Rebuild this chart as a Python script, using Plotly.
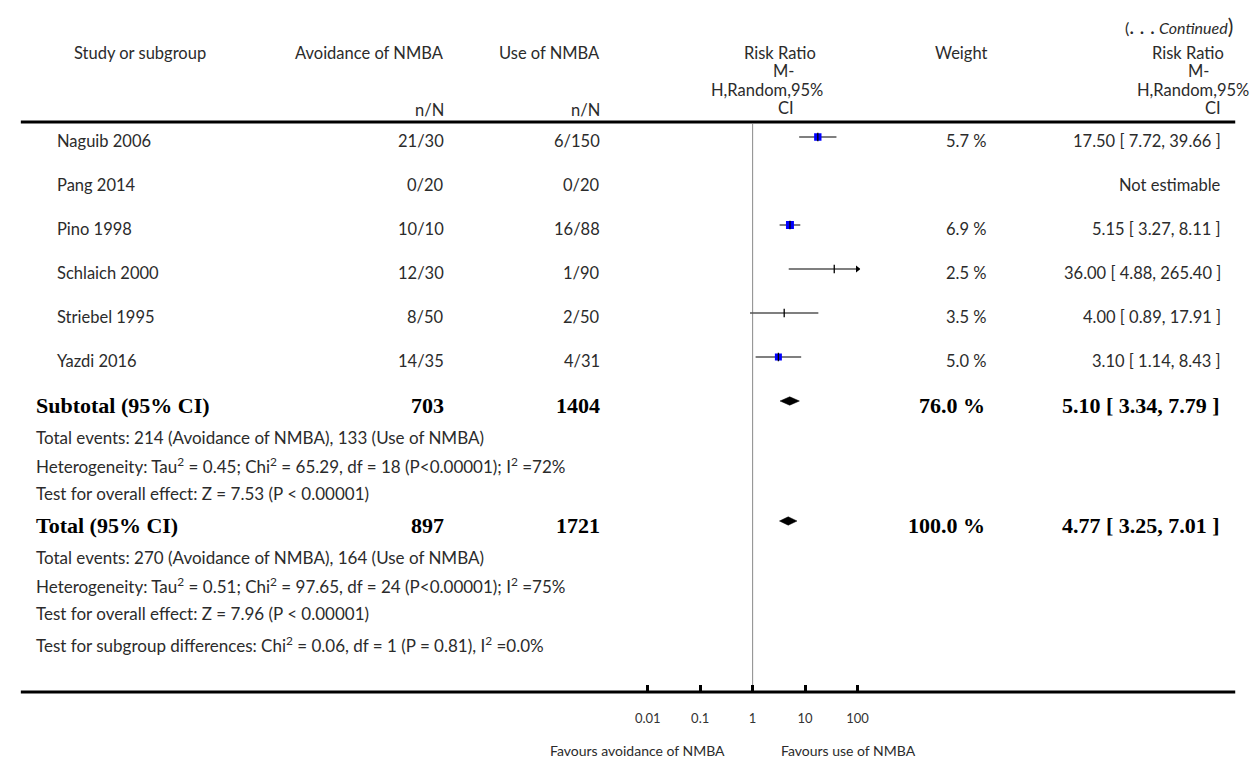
import plotly.graph_objects as go

W, H = 1259, 759

# ---- data ----
studies = ["Naguib 2006", "Pang 2014", "Pino 1998", "Schlaich 2000", "Striebel 1995", "Yazdi 2016"]
avoid_nN = ["21/30", "0/20", "10/10", "12/30", "8/50", "14/35"]
use_nN = ["6/150", "0/20", "16/88", "1/90", "2/50", "4/31"]
rr = [17.50, None, 5.15, 36.00, 4.00, 3.10]
ci_lo = [7.72, None, 3.27, 4.88, 0.89, 1.14]
ci_hi = [39.66, None, 8.11, 265.40, 17.91, 8.43]
weights = [5.7, None, 6.9, 2.5, 3.5, 5.0]

pooled_labels = ["Subtotal (95% CI)", "Total (95% CI)"]
pooled_avoid_N = [703, 897]
pooled_use_N = [1404, 1721]
pooled_rr = [5.10, 4.77]
pooled_lo = [3.34, 3.25]
pooled_hi = [7.79, 7.01]
pooled_weight = [76.0, 100.0]

subtotal_notes = [
    "Total events: 214 (Avoidance of NMBA), 133 (Use of NMBA)",
    "Heterogeneity: Tau<sup>2</sup> = 0.45; Chi<sup>2</sup> = 65.29, df = 18 (P<0.00001); I<sup>2</sup> =72%",
    "Test for overall effect: Z = 7.53 (P < 0.00001)",
]
total_notes = [
    "Total events: 270 (Avoidance of NMBA), 164 (Use of NMBA)",
    "Heterogeneity: Tau<sup>2</sup> = 0.51; Chi<sup>2</sup> = 97.65, df = 24 (P<0.00001); I<sup>2</sup> =75%",
    "Test for overall effect: Z = 7.96 (P < 0.00001)",
    "Test for subgroup differences: Chi<sup>2</sup> = 0.06, df = 1 (P = 0.81), I<sup>2</sup> =0.0%",
]

tick_vals = [0.01, 0.1, 1, 10, 100]
tick_labels = ["0.01", "0.1", "1", "10", "100"]
favours_left = "Favours avoidance of NMBA"
favours_right = "Favours use of NMBA"
rr_header = ["Risk Ratio", "M-", "H,Random,95%", "CI"]

# ---- layout geometry (pixels) ----
X_LO, X_HI = 647.5, 860.5          # positions of 0.01 and 100 on the log axis
DECADE = (X_HI - X_LO) / 4
PAD = 0.05                          # small extra range so the end ticks are drawn
AXIS_Y = 692
RULE_Y = 122
study_y = [137, 181, 225, 269, 313, 357]
pooled_y = [401, 521]
sub_note_y = [437, 465, 493]
tot_note_y = [557, 585, 613, 644]
TXT_DY = 4

SANS = "Lato"
SERIF = "Liberation Serif"
TXT = "#2b2b2b"
FS = 16.5        # body text
FS_NOTE = 17     # footnote lines
FS_BOLD = 22     # pooled rows

fig = go.Figure()
ann = []


def px(x):
    return x / W


def text(x, y, s, anchor="left", size=FS, family=SANS, color=TXT):
    ann.append(dict(x=px(x), y=y, xref="paper", yref="y", text=s, showarrow=False,
                    xanchor=anchor, yanchor="middle", borderpad=0,
                    font=dict(family=family, size=size, color=color)))


# null line at RR = 1
fig.add_trace(go.Scatter(x=[1, 1], y=[RULE_Y + 2, AXIS_Y - 1], mode="lines",
                         line=dict(color="#8a8a8a", width=1), hoverinfo="skip"))

AX_MAX = tick_vals[-1]
for i, name in enumerate(studies):
    y = study_y[i]
    if rr[i] is None:
        continue
    hi = min(ci_hi[i], AX_MAX)
    fig.add_trace(go.Scatter(x=[ci_lo[i], hi], y=[y, y], mode="lines",
                             line=dict(color="#555555", width=1.6), hoverinfo="skip"))
    if ci_hi[i] > AX_MAX:
        fig.add_trace(go.Scatter(x=[AX_MAX], y=[y], mode="markers",
                                 marker=dict(symbol="triangle-right", size=6, color="black"),
                                 hoverinfo="skip"))
    if weights[i] >= 4:
        fig.add_trace(go.Scatter(x=[rr[i]], y=[y], mode="markers",
                                 marker=dict(symbol="square", size=4.5 + 0.5 * weights[i],
                                             color="#0000ff", line=dict(width=0)),
                                 hoverinfo="skip"))
    fig.add_trace(go.Scatter(x=[rr[i]], y=[y], mode="markers",
                             marker=dict(symbol="line-ns", size=6,
                                         line=dict(color="black", width=1.3)),
                             hoverinfo="skip"))

# pooled diamonds
for j in range(len(pooled_rr)):
    y = pooled_y[j]
    fig.add_trace(go.Scatter(
        x=[pooled_lo[j], pooled_rr[j], pooled_hi[j], pooled_rr[j], pooled_lo[j]],
        y=[y, y - 4.2, y, y + 4.2, y], mode="lines", fill="toself",
        fillcolor="black", line=dict(color="black", width=0.5), hoverinfo="skip"))

# ---- header ----
text(1243, 25, "(<span style='font-size:21px'>. . .</span> <i>Continued</i><span style='font-size:21px'>)</span>",
     anchor="right", size=16)
text(132, 53, "Study or subgroup", anchor="center")
text(442, 53, "Avoidance of NMBA", anchor="right")
text(600, 53, "Use of NMBA", anchor="right")
text(442, 110, "n/N", anchor="right")
text(600, 110, "n/N", anchor="right")
left_cx = [782, 785, 769, 788]
right_cx = [1196, 1207, 1201, 1221]
for k, s in enumerate(rr_header):
    text(left_cx[k], 53 + 18.3 * k, s, anchor="center")
    text(right_cx[k], 53 + 18.3 * k, s, anchor="center")
text(966, 53, "Weight", anchor="center")

# ---- study rows ----
for i, name in enumerate(studies):
    y = study_y[i] + TXT_DY
    text(47, y, name)
    text(442, y, avoid_nN[i], anchor="right")
    text(600, y, use_nN[i], anchor="right")
    if rr[i] is None:
        text(1231, y, "Not estimable", anchor="right")
    else:
        text(992, y, f"{weights[i]:.1f} %", anchor="right")
        text(1231, y, f"{rr[i]:.2f} [ {ci_lo[i]:.2f}, {ci_hi[i]:.2f} ]", anchor="right")

# ---- pooled rows ----
for j in range(len(pooled_labels)):
    y = pooled_y[j] + TXT_DY
    text(25, y, f"<b>{pooled_labels[j]}</b>", size=FS_BOLD, family=SERIF, color="black")
    text(442, y, f"<b>{pooled_avoid_N[j]}</b>", anchor="right", size=FS_BOLD, family=SERIF, color="black")
    text(600, y, f"<b>{pooled_use_N[j]}</b>", anchor="right", size=FS_BOLD, family=SERIF, color="black")
    text(991, y, f"<b>{pooled_weight[j]:.1f} %</b>", anchor="right", size=FS_BOLD, family=SERIF, color="black")
    text(1230, y, f"<b>{pooled_rr[j]:.2f} [ {pooled_lo[j]:.2f}, {pooled_hi[j]:.2f} ]</b>",
         anchor="right", size=FS_BOLD, family=SERIF, color="black")

for s, y in zip(subtotal_notes, sub_note_y):
    text(25, y, s, size=FS_NOTE)
for s, y in zip(total_notes, tot_note_y):
    text(25, y, s, size=FS_NOTE)

# favours labels
text(727, 750, favours_left, anchor="right", size=14)
text(782, 750, favours_right, anchor="left", size=14)

shapes = [
    dict(type="line", xref="paper", yref="y", x0=px(11), x1=px(1244), y0=RULE_Y, y1=RULE_Y,
         line=dict(color="black", width=3)),
    dict(type="line", xref="paper", yref="y", x0=px(11), x1=px(1244), y0=AXIS_Y, y1=AXIS_Y,
         line=dict(color="black", width=3)),
]

fig.update_layout(
    width=W, height=H, margin=dict(l=0, r=0, t=0, b=0),
    paper_bgcolor="white", plot_bgcolor="rgba(0,0,0,0)", showlegend=False,
    xaxis=dict(type="log", range=[-2 - PAD, 2 + PAD],
               domain=[px(X_LO - PAD * DECADE), px(X_HI + PAD * DECADE)],
               anchor="free", position=(H - AXIS_Y) / H,
               showline=False, showgrid=False, zeroline=False,
               tickvals=tick_vals, ticktext=tick_labels,
               ticks="inside", ticklen=7, tickwidth=2.5, tickcolor="black",
               ticklabelstandoff=17,
               tickfont=dict(family=SANS, size=13, color="#333333")),
    yaxis=dict(range=[H, 0], domain=[0, 1], visible=False, fixedrange=True),
    annotations=ann, shapes=shapes,
)

fig.write_html("out.html")
